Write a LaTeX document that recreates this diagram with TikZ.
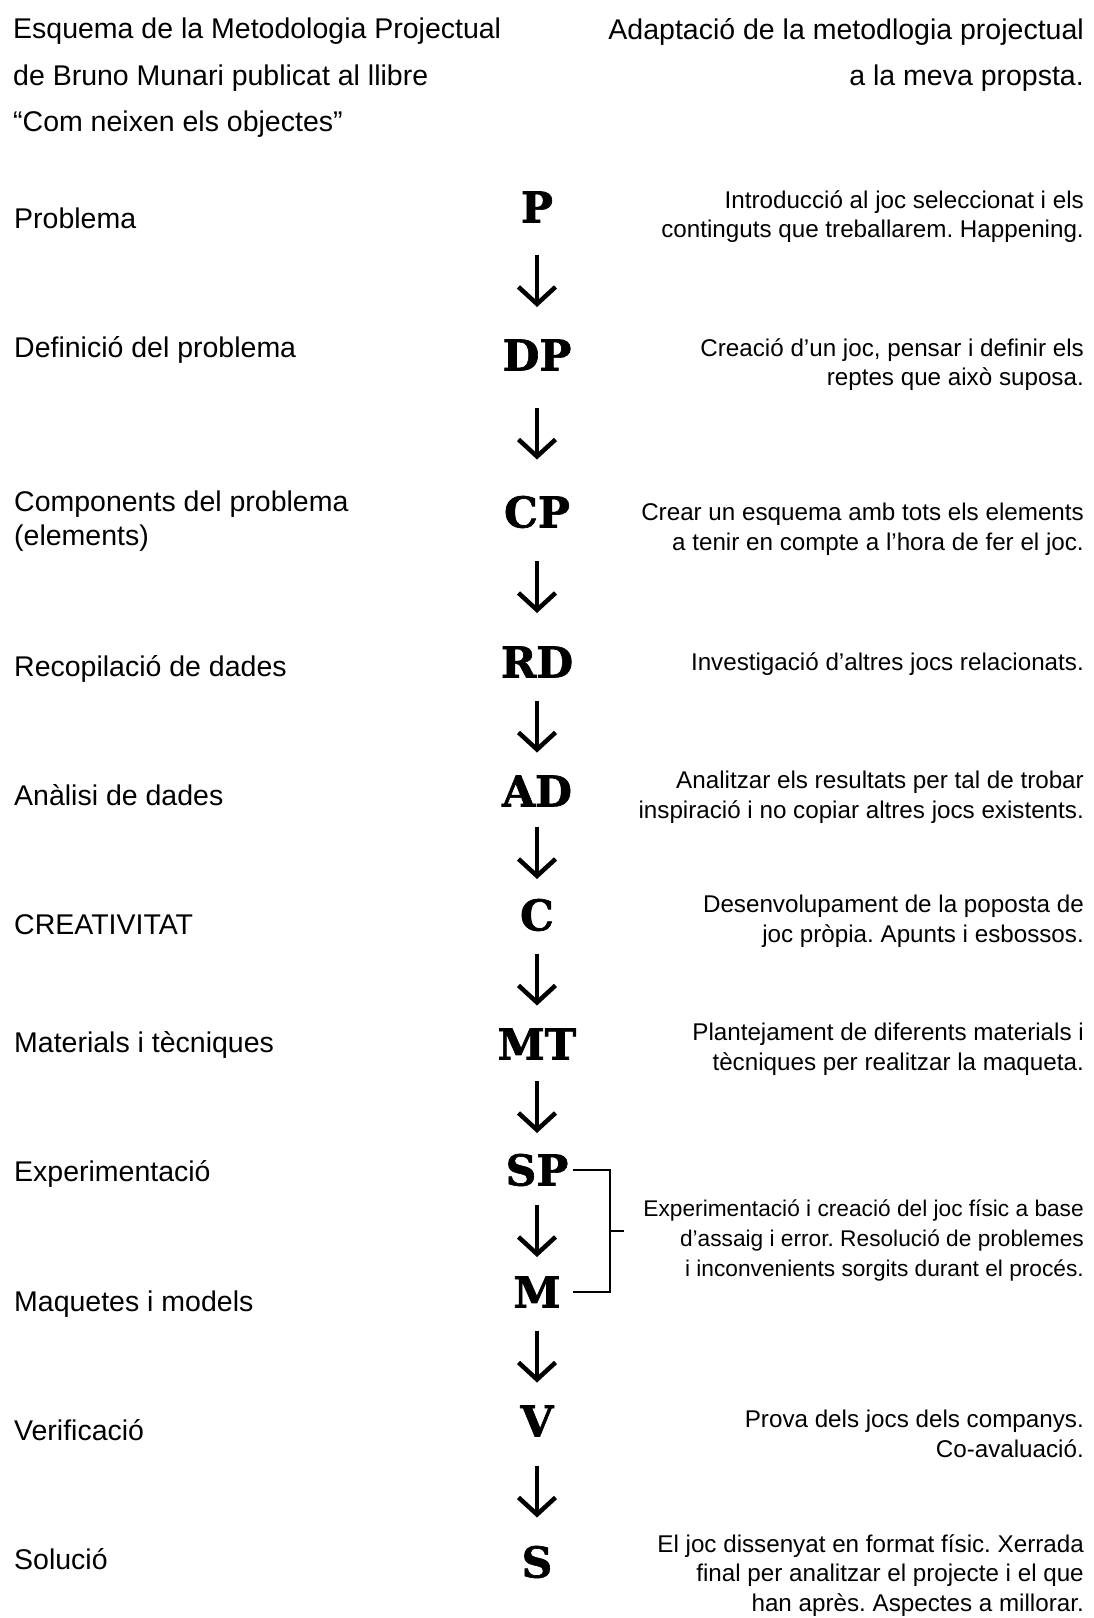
\documentclass[tikz,border=0pt]{standalone}
\usepackage{fontspec}
\setmainfont{Liberation Sans}
\newfontfamily\letfont[FakeBold=1.5]{DejaVu Serif}
\usetikzlibrary{arrows.meta,calc}
\frenchspacing

\begin{document}
\begin{tikzpicture}[x=1pt, y=-1pt,
  head/.style={inner sep=0pt, align=left, font=\fontsize{28.5}{46.5}\selectfont},
  lbl/.style={anchor=base west, inner sep=0pt, font=\fontsize{28.5}{34}\selectfont},
  let/.style={inner sep=4pt, font=\letfont\bfseries\fontsize{42.5}{42.5}\selectfont},
  desc/.style={anchor=north east, inner sep=0pt, align=right, font=\fontsize{24.2}{29.7}\selectfont},
  arr/.style={-{Straight Barb[length=17pt,width=37pt]}, line width=4.5pt},
  brk/.style={line width=2pt}]
  \useasboundingbox (0,0) rectangle (1094,1618);
  % capçaleres
  \node[head, anchor=north west] (h1) at (13,18) {Esquema de la Metodologia Projectual\\de Bruno Munari publicat al llibre\\“Com neixen els objectes”};
  \node[head, anchor=north east, align=right] (h2) at (1084,18) {Adaptació de la metodlogia projectual\\a la meva propsta.};
  % Munari
  \node[lbl] (l1) at (14,228) {Problema};
  \node[lbl] (l2) at (14,357) {Definició del problema};
  \node[lbl, anchor=north west, align=left] (l3) at (14,491) {Components del problema\\(elements)};
  \node[lbl] (l4) at (14,676) {Recopilació de dades};
  \node[lbl] (l5) at (14,805) {Anàlisi de dades};
  \node[lbl] (l6) at (14,934) {CREATIVITAT};
  \node[lbl] (l7) at (14,1052) {Materials i tècniques};
  \node[lbl] (l8) at (14,1181) {Experimentació};
  \node[lbl] (l9) at (14,1311) {Maquetes i models};
  \node[lbl] (l10) at (14,1440) {Verificació};
  \node[lbl] (l11) at (14,1569) {Solució};
  % sigles
  \node[let] (P) at (537,207) {P};
  \node[let] (DP) at (537,355) {DP};
  \node[let] (CP) at (537,512) {CP};
  \node[let] (RD) at (537,662) {RD};
  \node[let] (AD) at (537,791) {AD};
  \node[let] (C) at (537,915) {C};
  \node[let] (MT) at (537,1044) {MT};
  \node[let] (SP) at (537,1170) {SP};
  \node[let] (M) at (537,1292) {M};
  \node[let] (V) at (537,1421) {V};
  \node[let] (S) at (537,1562) {S};
  \foreach \a/\b in {P/DP, DP/CP, CP/RD, RD/AD, AD/C, C/MT, MT/SP, SP/M, M/V, V/S}
    \draw[arr] ($(\a)!0.5!(\b)+(0,-26)$) -- ($(\a)!0.5!(\b)+(0,26)$);
  % claudator SP-M
  \coordinate (bx) at (610,0);
  \draw[brk] (SP.east) -- (SP.east -| bx) -- (M.east -| bx) -- (M.east -| SP.east);
  \draw[brk] ($(SP.east -| bx)!0.5!(M.east -| bx)$) -- ++(14,0);
  % proposta
  \node[desc] (d1) at (1084,190) {Introducció al joc seleccionat i els\\continguts que treballarem. Happening.};
  \node[desc] (d2) at (1084,338) {Creació d’un joc, pensar i definir els\\reptes que això suposa.};
  \node[desc] (d3) at (1084,503) {Crear un esquema amb tots els elements\\a tenir en compte a l’hora de fer el joc.};
  \node[desc] (d4) at (1084,652) {Investigació d’altres jocs relacionats.};
  \node[desc] (d5) at (1084,771) {Analitzar els resultats per tal de trobar\\inspiració i no copiar altres jocs existents.};
  \node[desc] (d6) at (1084,895) {Desenvolupament de la poposta de\\joc pròpia. Apunts i esbossos.};
  \node[desc] (d7) at (1084,1023) {Plantejament de diferents materials i\\tècniques per realitzar la maqueta.};
  \node[desc, font=\fontsize{22.7}{29.7}\selectfont] (d8) at (1084,1200) {Experimentació i creació del joc físic a base\\d’assaig i error. Resolució de problemes\\i inconvenients sorgits durant el procés.};
  \node[desc] (d9) at (1084,1410) {Prova dels jocs dels companys.\\Co-avaluació.};
  \node[desc] (d10) at (1084,1534) {El joc dissenyat en format físic. Xerrada\\final per analitzar el projecte i el que\\han après. Aspectes a millorar.};
\end{tikzpicture}
\end{document}
